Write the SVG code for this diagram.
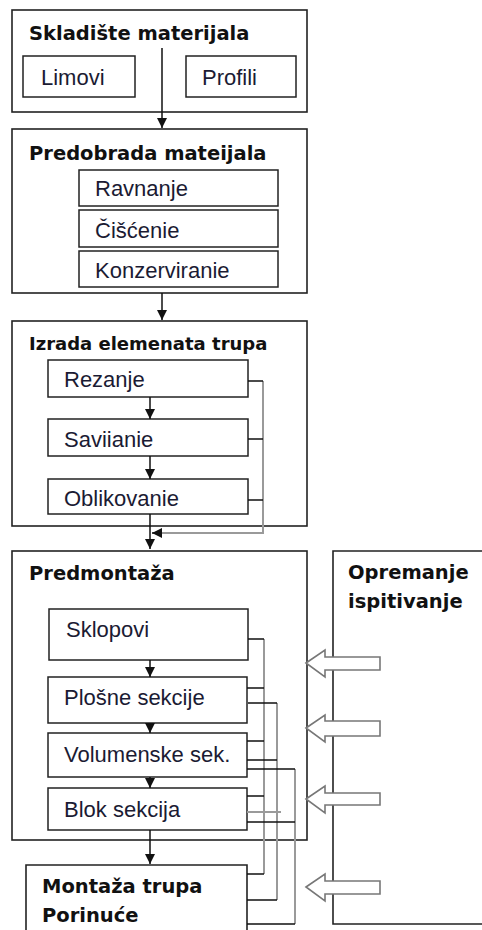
<svg xmlns="http://www.w3.org/2000/svg" width="482" height="930" viewBox="0 0 482 930">
<defs>
<style>
.box{fill:#fff;stroke:#222;stroke-width:1.6}
.sub{fill:#fff;stroke:#222;stroke-width:1.5}
.t{font-family:"DejaVu Sans",Verdana,sans-serif;font-weight:bold;font-size:19.5px;fill:#111}
.l{font-family:"Liberation Sans",Arial,sans-serif;font-size:22px;fill:#1b1b33}
.flow{stroke:#111;stroke-width:1.5;fill:none}
.stub{stroke:#111;stroke-width:1.3;fill:none}
.gray{stroke:#9a9a9a;stroke-width:2;fill:none}
.big{fill:#fff;stroke:#777;stroke-width:1.6}
</style>
<marker id="ah" markerUnits="userSpaceOnUse" markerWidth="12" markerHeight="12" viewBox="0 0 12 12" refX="10" refY="6" orient="auto">
<path d="M0,1 L10,6 L0,11 Z" fill="#111"/>
</marker>
</defs>

<g id="skladiste">
<rect class="box" x="12" y="10" width="295" height="102"/>
<text class="t" x="29" y="40">Skladište materijala</text>
</g>
<g id="limovi">
<rect class="sub" x="23" y="56" width="112" height="41"/>
<text class="l" x="41" y="85">Limovi</text>
</g>
<g id="profili">
<rect class="sub" x="186" y="56" width="110" height="41"/>
<text class="l" x="202" y="85">Profili</text>
</g>

<g id="predobrada">
<rect class="box" x="12" y="129" width="295" height="164"/>
<text class="t" x="29" y="160">Predobrada mateijala</text>
</g>
<g id="ravnanje">
<rect class="sub" x="79" y="170" width="199" height="36"/>
<text class="l" x="95" y="196">Ravnanje</text>
</g>
<g id="ciscenie">
<rect class="sub" x="79" y="210" width="199" height="37"/>
<text class="l" x="95" y="238">Čišćenie</text>
</g>
<g id="konzerviranie">
<rect class="sub" x="79" y="251" width="199" height="36"/>
<text class="l" x="95" y="278">Konzerviranie</text>
</g>

<g id="izrada">
<rect class="box" x="12" y="321" width="295" height="205"/>
<text class="t" x="29" y="350" style="font-size:18px">Izrada elemenata trupa</text>
</g>
<g id="rezanje">
<rect class="sub" x="48" y="360" width="200" height="37"/>
<text class="l" x="64" y="387">Rezanje</text>
</g>
<g id="saviianie">
<rect class="sub" x="48" y="419" width="200" height="37"/>
<text class="l" x="64" y="447">Saviianie</text>
</g>
<g id="oblikovanie">
<rect class="sub" x="48" y="479" width="200" height="35"/>
<text class="l" x="64" y="506">Oblikovanie</text>
</g>

<g id="predmontaza">
<rect class="box" x="12" y="551" width="295" height="289"/>
<text class="t" x="29" y="580">Predmontaža</text>
</g>
<g id="opremanje">
<path class="box" d="M482,551 H333 V924 H482"/>
<text class="t" x="348" y="579">Opremanje</text>
<text class="t" x="348" y="608">ispitivanje</text>
</g>
<g id="sklopovi">
<rect class="sub" x="49" y="609" width="199" height="51"/>
<text class="l" x="66" y="637">Sklopovi</text>
</g>
<g id="plosne">
<rect class="sub" x="48" y="677" width="199" height="46"/>
<text class="l" x="64" y="705">Plošne sekcije</text>
</g>
<g id="volumenske">
<rect class="sub" x="48" y="733" width="199" height="44"/>
<text class="l" x="64" y="762">Volumenske sek.</text>
</g>
<g id="blok">
<rect class="sub" x="48" y="788" width="199" height="42"/>
<text class="l" x="64" y="817">Blok sekcija</text>
</g>
<g id="montaza">
<path class="box" d="M26,932 V865 H247 V932"/>
<text class="t" x="42" y="893">Montaža trupa</text>
<text class="t" x="42" y="922">Porinuće</text>
</g>

<g id="connectors">
<line class="flow" x1="162" y1="48" x2="162" y2="128" marker-end="url(#ah)"/>
<line class="flow" x1="162" y1="293" x2="162" y2="320" marker-end="url(#ah)"/>
<line class="flow" x1="150" y1="397" x2="150" y2="419" marker-end="url(#ah)"/>
<line class="flow" x1="150" y1="456" x2="150" y2="479" marker-end="url(#ah)"/>
<line class="flow" x1="150" y1="514" x2="150" y2="549" marker-end="url(#ah)"/>
<line class="flow" x1="150" y1="660" x2="150" y2="677" marker-end="url(#ah)"/>
<line class="flow" x1="150" y1="723" x2="150" y2="733" marker-end="url(#ah)"/>
<line class="flow" x1="150" y1="777" x2="150" y2="788" marker-end="url(#ah)"/>
<line class="flow" x1="150" y1="830" x2="150" y2="864" marker-end="url(#ah)"/>

<path class="gray" d="M263,381 V533 H162"/>
<line class="flow" x1="162" y1="533" x2="152" y2="533" marker-end="url(#ah)"/>
<path class="stub" d="M248,381 H263 M248,439 H263 M248,500 H263"/>

<path class="gray" d="M264,639 V874"/>
<path class="gray" d="M277,703 V900"/>
<path class="gray" d="M295,769 V924"/>
<path class="stub" d="M248,639 H264 M247,688 H264 M248,703 H277 M247,741 H264 M247,760 H277 M247,769 H295 M247,796 H264 M247,822 H295 M247,874 H264 M247,900 H277 M247,924 H295"/>
<path class="gray" d="M247,812 H281"/>

<polygon class="big" points="306,663 325,650 325,657 380,657 380,670 325,670 325,677"/>
<polygon class="big" points="306,728 325,715 325,721 380,721 380,736 325,736 325,742"/>
<polygon class="big" points="306,799 325,786 325,793 380,793 380,805 325,805 325,813"/>
<polygon class="big" points="306,887 325,874 325,881 380,881 380,894 325,894 325,901"/>
</g>
</svg>
